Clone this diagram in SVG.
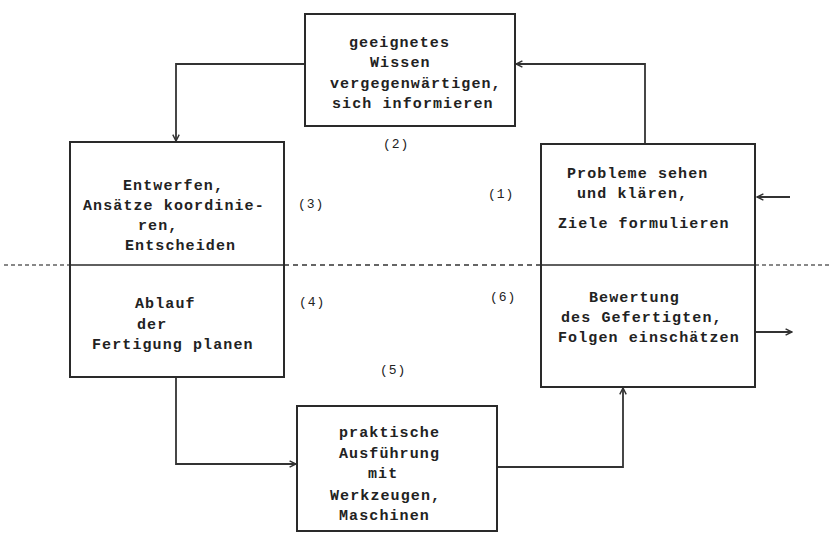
<svg xmlns="http://www.w3.org/2000/svg" width="829" height="533" viewBox="0 0 829 533">
  <style>
    .box { fill: none; stroke: #2a2a2a; stroke-width: 2; }
    .div { stroke: #2a2a2a; stroke-width: 1.6; }
    .conn { fill: none; stroke: #333; stroke-width: 1.8; }
    .t { font-family: "Liberation Mono", "DejaVu Sans Mono", monospace; font-size: 15px; font-weight: bold; letter-spacing: 1.1px; fill: #222; }
    .num { font-family: "Liberation Mono", "DejaVu Sans Mono", monospace; font-size: 13px; letter-spacing: 1px; fill: #222; }
    .dash { stroke: #333; stroke-width: 1.6; stroke-dasharray: 5 4; }
    .dot { stroke: #888; stroke-width: 2; stroke-dasharray: 4 3; }
  </style>
  <defs>
    <marker id="arr" viewBox="0 0 10 10" refX="9" refY="5" markerWidth="8" markerHeight="8" orient="auto" markerUnits="userSpaceOnUse">
      <polyline points="1,1 9,5 1,9" fill="none" stroke="#333" stroke-width="1.8"/>
    </marker>
  </defs>

  <rect width="829" height="533" fill="#fff"/>

  <!-- phase boundary line -->
  <g id="boundary">
    <line class="dot" x1="4" y1="265" x2="70" y2="265"/>
    <line class="dash" x1="284" y1="265" x2="541" y2="265"/>
    <line class="dot" x1="755" y1="265" x2="829" y2="265"/>
  </g>

  <!-- connectors -->
  <g id="connectors">
    <polyline class="conn" points="305,64 176,64 176,141" marker-end="url(#arr)"/>
    <polyline class="conn" points="645,144 645,64 516,64" marker-end="url(#arr)"/>
    <polyline class="conn" points="176,377 176,464 296,464" marker-end="url(#arr)"/>
    <polyline class="conn" points="497,467 623,467 623,388" marker-end="url(#arr)"/>
    <line class="conn" x1="790" y1="197" x2="757" y2="197" marker-end="url(#arr)"/>
    <line class="conn" x1="756" y1="332" x2="792" y2="332" marker-end="url(#arr)"/>
  </g>

  <!-- step (2) -->
  <g id="node-wissen">
    <rect class="box" x="305" y="14" width="210" height="112"/>
    <text class="t" x="349" y="47">geeignetes</text>
    <text class="t" x="370" y="67">Wissen</text>
    <text class="t" x="330" y="88">vergegenwärtigen,</text>
    <text class="t" x="332" y="108">sich informieren</text>
  </g>

  <!-- steps (3) and (4) -->
  <g id="node-entwerfen">
    <rect class="box" x="70" y="142" width="214" height="235"/>
    <line class="div" x1="70" y1="265" x2="284" y2="265"/>
    <text class="t" x="123" y="190">Entwerfen,</text>
    <text class="t" x="83" y="210">Ansätze koordinie-</text>
    <text class="t" x="138" y="230">ren,</text>
    <text class="t" x="125" y="250">Entscheiden</text>
    <text class="t" x="135" y="308">Ablauf</text>
    <text class="t" x="137" y="329">der</text>
    <text class="t" x="92" y="349">Fertigung planen</text>
  </g>

  <!-- steps (1) and (6) -->
  <g id="node-probleme">
    <rect class="box" x="541" y="144" width="214" height="243"/>
    <line class="div" x1="541" y1="265" x2="755" y2="265"/>
    <text class="t" x="567" y="178">Probleme sehen</text>
    <text class="t" x="577" y="198">und klären,</text>
    <text class="t" x="558" y="228">Ziele formulieren</text>
    <text class="t" x="589" y="302">Bewertung</text>
    <text class="t" x="561" y="322">des Gefertigten,</text>
    <text class="t" x="558" y="342">Folgen einschätzen</text>
  </g>

  <!-- step (5) -->
  <g id="node-ausfuehrung">
    <rect class="box" x="297" y="406" width="200" height="125"/>
    <text class="t" x="339" y="437">praktische</text>
    <text class="t" x="339" y="458">Ausführung</text>
    <text class="t" x="368" y="478">mit</text>
    <text class="t" x="330" y="500">Werkzeugen,</text>
    <text class="t" x="339" y="520">Maschinen</text>
  </g>

  <!-- step numbers -->
  <g id="numbers">
    <text class="num" x="383" y="148">(2)</text>
    <text class="num" x="488" y="198">(1)</text>
    <text class="num" x="298" y="208">(3)</text>
    <text class="num" x="299" y="306">(4)</text>
    <text class="num" x="490" y="301">(6)</text>
    <text class="num" x="380" y="374">(5)</text>
  </g>
</svg>
